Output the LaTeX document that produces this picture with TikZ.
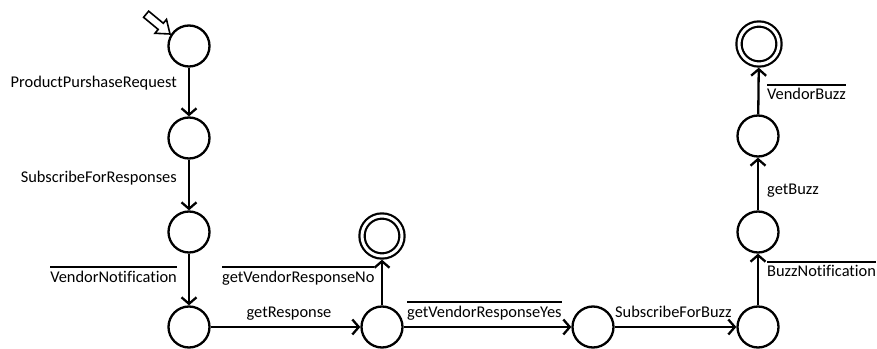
\documentclass[tikz,border=0pt]{standalone}
\usepackage{fontspec}
\setmainfont{Carlito}[Ligatures=NoCommon]
\usetikzlibrary{arrows.meta}
\newcommand{\ovl}[1]{\vbox{\hrule height 1.6pt\kern 2.8pt\hbox{#1}}}
\tikzset{
  state/.style={circle,draw,line width=2.3pt,minimum size=41pt,inner sep=0pt},
  accepting/.style={circle,draw,line width=2.2pt,double,double distance=3pt,minimum size=40pt,inner sep=0pt,outer sep=3.7pt},
  trans/.style={line width=2.3pt,-{Straight Barb[length=6.5pt,width=15pt,line width=2.3pt]}},
  lbl/.style={inner sep=0pt,font=\fontsize{16.4}{19}\selectfont},
}
\begin{document}
\begin{tikzpicture}[x=1pt,y=1pt]
\useasboundingbox (0,0) rectangle (877,348);
% states
\node[state] (s1) at (189,302) {};
\node[state] (s2) at (189,210) {};
\node[state] (s3) at (189,116) {};
\node[state] (s4) at (189,21) {};
\node[state] (n5) at (382,21) {};
\node[accepting] (f1) at (382,112) {};
\node[state] (n6) at (593,21) {};
\node[state] (n7) at (758,21) {};
\node[state] (n8) at (758,116) {};
\node[state] (n9) at (758,212) {};
\node[accepting] (f2) at (759,304) {};
% start arrow
\begin{scope}[shift={(170,314)},rotate=-39.6]
\draw[line width=1.6pt,line join=miter] (0,0) -- (-12,9) -- (-12,4) -- (-31,4) -- (-31,-4) -- (-12,-4) -- (-12,-9) -- cycle;
\end{scope}
% transitions
\draw[trans] (s1) -- (s2);
\draw[trans] (s2) -- (s3);
\draw[trans] (s3) -- (s4);
\draw[trans] (s4) -- (n5);
\draw[trans] (n5) -- (f1);
\draw[trans] (n5) -- (n6);
\draw[trans] (n6) -- (n7);
\draw[trans] (n7) -- (n8);
\draw[trans] (n8) -- (n9);
\draw[trans] (n9) -- (f2);
% labels
\node[lbl,anchor=base east] (l1) at (177,260) {ProductPurshaseRequest};
\node[lbl,anchor=base east] (l2) at (177,165) {SubscribeForResponses};
\node[lbl,anchor=base east] (l3) at (177,66) {\ovl{VendorNotification}};
\node[lbl,anchor=base west] (l4) at (222,66) {\ovl{getVendorResponseNo}};
\node[lbl,anchor=base] (l5) at (289,31) {getResponse};
\node[lbl,anchor=base west] (l6) at (407,31) {\ovl{getVendorResponseYes}};
\node[lbl,anchor=base west] (l7) at (615,31) {SubscribeForBuzz};
\node[lbl,anchor=base west] (l8) at (767,248) {\ovl{VendorBuzz}};
\node[lbl,anchor=base west] (l9) at (767,153) {getBuzz};
\node[lbl,anchor=base west] (l10) at (767,71) {\ovl{BuzzNotification}};
\end{tikzpicture}
\end{document}
